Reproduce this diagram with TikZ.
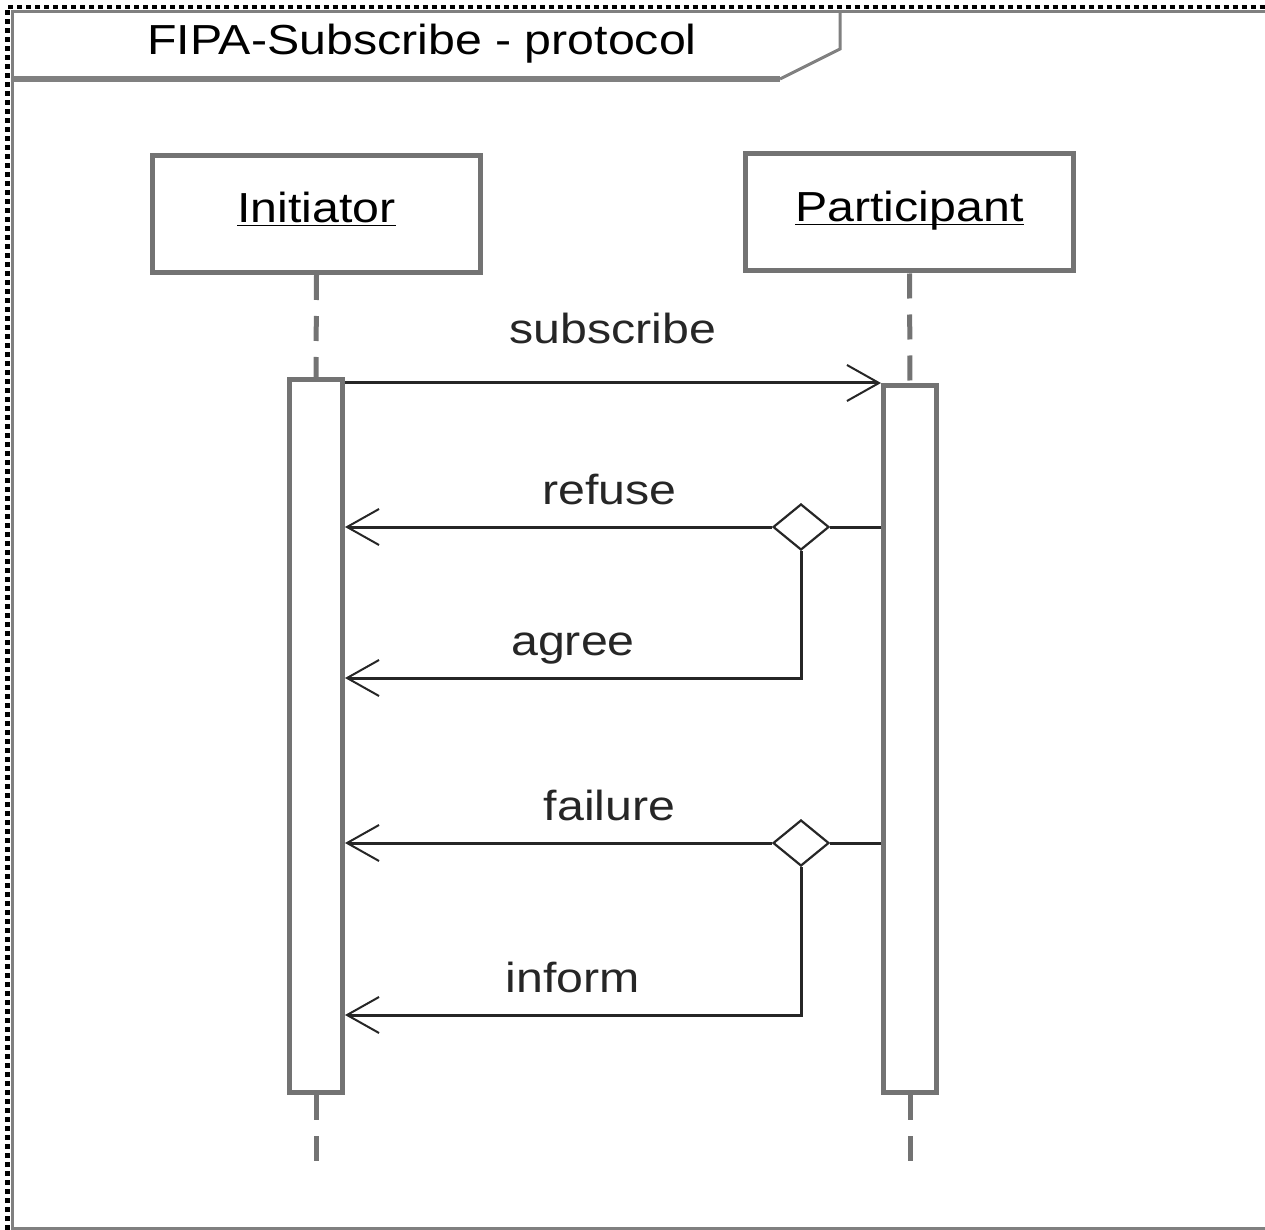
\documentclass[tikz,border=0pt]{standalone}
\usepackage{fontspec}
\setmainfont[FakeStretch=1.15]{Liberation Sans}
\usetikzlibrary{arrows.meta,shapes.geometric}

\begin{document}
\begin{tikzpicture}[
    x=0.5pt, y=-0.5pt,
    every node/.style={font=\fontsize{21}{25}\selectfont},
    frameline/.style={line width=1.5pt, black!50},
    role/.style={draw=black!55, line width=2.5pt,
                 minimum width=164pt, minimum height=58.5pt, inner sep=0pt,
                 text height=12pt, text depth=3pt},
    activation/.style={draw=black!55, line width=2.5pt, fill=white,
                       minimum width=26.5pt, inner sep=0pt},
    lifeline/.style={black!55, line width=2.5pt, dash pattern=on 12.5pt off 8pt},
    msg/.style={black!85, line width=1.5pt},
    arr/.style={msg, -{Straight Barb[length=16pt, width=18pt, line width=1pt]}},
    choice/.style={diamond, draw=black!85, line width=1.1pt, fill=white,
                   minimum width=28pt, minimum height=23pt, inner sep=0pt},
    msglabel/.style={anchor=base, yshift=11.5pt},
]
\useasboundingbox (0,0) rectangle (1265,1230);

% Diagram frame and title tab
\draw[black, line width=2.25pt, dash pattern=on 2.5pt off 2pt] (7.5,1230) -- (7.5,7) -- (1265,7);
\draw[frameline] (1265,11.5) -- (12.5,11.5) -- (12.5,1228) -- (1265,1228);
\draw[frameline, line width=3pt] (12.5,79) -- (780,79);
\draw[frameline] (780,79) -- (840,49) -- (840,11.5);
\node[anchor=base] (title) at (422,55) {FIPA-Subscribe - protocol};

% Roles and lifelines
\node[role] (ini) at (316.5,214) {\underline{\smash{Initiator}}};
\node[role] (part) at (909.5,212.5) {\underline{\smash{Participant}}};
\node[activation, minimum height=356.5pt] (act1) at (316,736) {};
\node[activation, minimum height=353.5pt] (act2) at (910,739) {};
\coordinate (end1) at (316,1165);
\coordinate (end2) at (910,1165);
\draw[lifeline] (ini.south) -- (act1.north);
\draw[lifeline] (act1.south) -- (end1);
\draw[lifeline] (part.south) -- (act2.north);
\draw[lifeline] (act2.south) -- (end2);

% Messages
\coordinate (sub) at (612,383);
\draw[arr] (act1.east |- sub) -- (act2.west |- sub)
    node[midway, msglabel, yshift=8pt] {subscribe};

\node[choice] (ch1) at (801,527) {};
\coordinate (agr) at (801,678);
\draw[msg] (act2.west |- ch1) -- (ch1.east);
\draw[arr] (ch1.west) -- (act1.east |- ch1) node[pos=0.38, msglabel] {refuse};
\draw[arr] (ch1.south) -- (agr) -- (act1.east |- agr) node[midway, msglabel] {agree};

\node[choice] (ch2) at (801,843) {};
\coordinate (inf) at (801,1015);
\draw[msg] (act2.west |- ch2) -- (ch2.east);
\draw[arr] (ch2.west) -- (act1.east |- ch2) node[pos=0.38, msglabel] {failure};
\draw[arr] (ch2.south) -- (inf) -- (act1.east |- inf) node[midway, msglabel] {inform};

\end{tikzpicture}
\end{document}
